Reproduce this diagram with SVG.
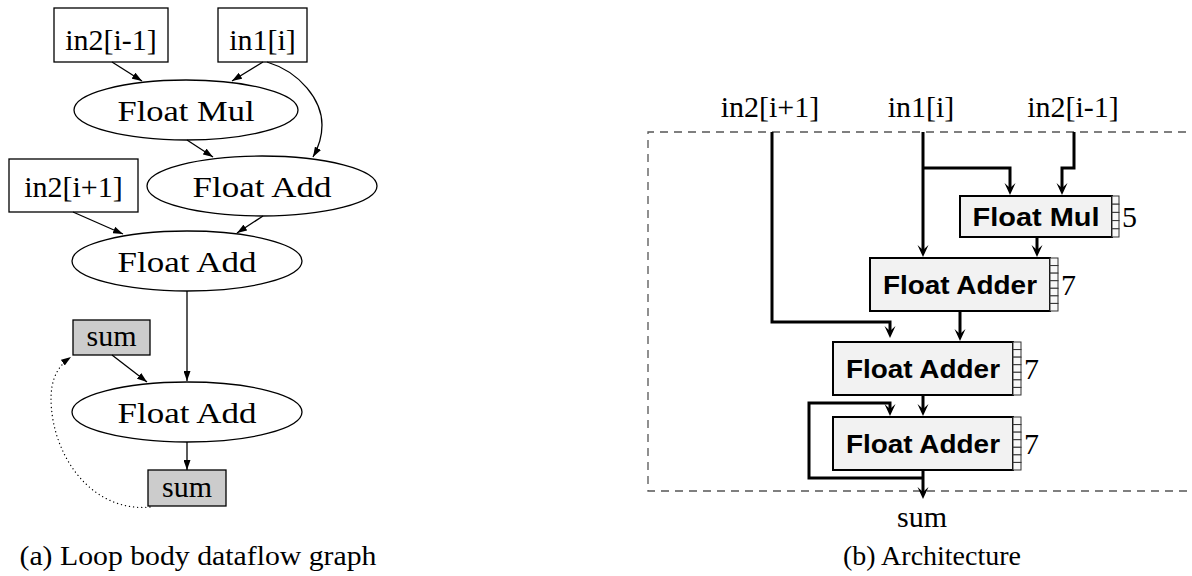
<svg xmlns="http://www.w3.org/2000/svg" width="1192" height="576" viewBox="0 0 1192 576">
<style>
.serif{font-family:"Liberation Serif","DejaVu Serif",serif;fill:#000}
.lbl{font-size:30px;text-anchor:middle}
.cap{font-size:28px;text-anchor:middle}
.sans{font-family:"Liberation Sans","DejaVu Sans",sans-serif;font-weight:bold;font-size:26px;text-anchor:middle;fill:#000}
.gnode{fill:#fff;stroke:#000;stroke-width:1.3}
.gsum{fill:#cccccc;stroke:#000;stroke-width:1.3}
.gedge{fill:none;stroke:#000;stroke-width:1.3}
.unit{fill:#f2f2f2;stroke:#000;stroke-width:2}
.stage{fill:#f8f8f8;stroke:#333;stroke-width:1}
.wire{fill:none;stroke:#000;stroke-width:3}
</style>
<defs>
<marker id="ga" viewBox="0 0 10 7" refX="10" refY="3.5" markerWidth="10" markerHeight="7" markerUnits="userSpaceOnUse" orient="auto">
<path d="M0,0 L10,3.5 L0,7 z" fill="#000"/>
</marker>
<marker id="sa" viewBox="0 0 12 12" refX="7" refY="6" markerWidth="12" markerHeight="12" markerUnits="userSpaceOnUse" orient="auto">
<path d="M12,6 L0,0.5 L5,6 L0,11.5 z" fill="#000"/>
</marker>
</defs>

<!-- (a) dataflow graph -->
<g id="a-in2m1"><rect class="gnode" x="54" y="8" width="114" height="54"/><text class="serif lbl" x="111" y="50">in2[i-1]</text></g>
<g id="a-in1"><rect class="gnode" x="218" y="8" width="89" height="54"/><text class="serif lbl" x="262.5" y="50">in1[i]</text></g>
<g id="a-mul"><ellipse class="gnode" cx="186" cy="110" rx="112" ry="30"/><text class="serif lbl" x="186" y="121" textLength="137" lengthAdjust="spacingAndGlyphs">Float Mul</text></g>
<g id="a-add1"><ellipse class="gnode" cx="262" cy="186" rx="115" ry="30"/><text class="serif lbl" x="262" y="197" textLength="139" lengthAdjust="spacingAndGlyphs">Float Add</text></g>
<g id="a-in2p1"><rect class="gnode" x="9" y="159" width="129" height="53"/><text class="serif lbl" x="73.5" y="197">in2[i+1]</text></g>
<g id="a-add2"><ellipse class="gnode" cx="187" cy="261" rx="115" ry="30"/><text class="serif lbl" x="187" y="272" textLength="139" lengthAdjust="spacingAndGlyphs">Float Add</text></g>
<g id="a-sum1"><rect class="gsum" x="73" y="320" width="77" height="35"/><text class="serif lbl" x="111.5" y="346">sum</text></g>
<g id="a-add3"><ellipse class="gnode" cx="187" cy="412" rx="115" ry="30"/><text class="serif lbl" x="187" y="423" textLength="139" lengthAdjust="spacingAndGlyphs">Float Add</text></g>
<g id="a-sum2"><rect class="gsum" x="148" y="470" width="78" height="36"/><text class="serif lbl" x="187" y="497">sum</text></g>

<g id="a-edges">
<path class="gedge" marker-end="url(#ga)" d="M112,62 L142,81"/>
<path class="gedge" marker-end="url(#ga)" d="M263,62 L232,81"/>
<path class="gedge" marker-end="url(#ga)" d="M267,62 C300,72 322,100 322,125 C322,140 317,150 313,157"/>
<path class="gedge" marker-end="url(#ga)" d="M187,140 L213,157"/>
<path class="gedge" marker-end="url(#ga)" d="M73,212 L123,234"/>
<path class="gedge" marker-end="url(#ga)" d="M263,216 L237,233"/>
<path class="gedge" marker-end="url(#ga)" d="M187,291 L187,381"/>
<path class="gedge" marker-end="url(#ga)" d="M112,355 L147,382"/>
<path class="gedge" marker-end="url(#ga)" d="M187,442 L187,470"/>
<path class="gedge" marker-end="url(#ga)" stroke-dasharray="0.1 4" stroke-linecap="round" d="M150,507 C100,512 62,470 53,420 C47,385 55,368 71,357"/>
</g>
<text class="serif cap" x="198" y="565" textLength="357" lengthAdjust="spacingAndGlyphs">(a) Loop body dataflow graph</text>

<!-- (b) architecture -->
<path d="M1200,132 H648 V491 H1200" fill="none" stroke="#555" stroke-width="1.3" stroke-dasharray="8 6"/>
<g id="b-in2p1"><text class="serif lbl" x="770" y="117">in2[i+1]</text></g>
<g id="b-in1"><text class="serif lbl" x="921" y="117">in1[i]</text></g>
<g id="b-in2m1"><text class="serif lbl" x="1073" y="117">in2[i-1]</text></g>

<g id="b-mul">
<rect class="unit" x="960" y="196" width="152" height="41"/>
<text class="sans" x="1036" y="226" textLength="127" lengthAdjust="spacingAndGlyphs">Float Mul</text>
<g class="stage"><rect x="1112" y="196" width="7" height="8.2"/><rect x="1112" y="204.2" width="7" height="8.2"/><rect x="1112" y="212.4" width="7" height="8.2"/><rect x="1112" y="220.6" width="7" height="8.2"/><rect x="1112" y="228.8" width="7" height="8.2"/></g>
<text class="serif lbl" x="1122" y="227" text-anchor="start" style="text-anchor:start">5</text>
</g>

<g id="b-add1">
<rect class="unit" x="870" y="258" width="180" height="53"/>
<text class="sans" x="960" y="294" textLength="154" lengthAdjust="spacingAndGlyphs">Float Adder</text>
<g class="stage"><rect x="1050" y="258" width="8" height="7.57"/><rect x="1050" y="265.57" width="8" height="7.57"/><rect x="1050" y="273.14" width="8" height="7.57"/><rect x="1050" y="280.71" width="8" height="7.57"/><rect x="1050" y="288.29" width="8" height="7.57"/><rect x="1050" y="295.86" width="8" height="7.57"/><rect x="1050" y="303.43" width="8" height="7.57"/></g>
<text class="serif lbl" x="1061" y="295" style="text-anchor:start">7</text>
</g>

<g id="b-add2">
<rect class="unit" x="833" y="342" width="180" height="53"/>
<text class="sans" x="923" y="378" textLength="154" lengthAdjust="spacingAndGlyphs">Float Adder</text>
<g class="stage"><rect x="1013" y="342" width="8" height="7.57"/><rect x="1013" y="349.57" width="8" height="7.57"/><rect x="1013" y="357.14" width="8" height="7.57"/><rect x="1013" y="364.71" width="8" height="7.57"/><rect x="1013" y="372.29" width="8" height="7.57"/><rect x="1013" y="379.86" width="8" height="7.57"/><rect x="1013" y="387.43" width="8" height="7.57"/></g>
<text class="serif lbl" x="1024" y="379" style="text-anchor:start">7</text>
</g>

<g id="b-add3">
<rect class="unit" x="833" y="417" width="180" height="53"/>
<text class="sans" x="923" y="453" textLength="154" lengthAdjust="spacingAndGlyphs">Float Adder</text>
<g class="stage"><rect x="1013" y="417" width="8" height="7.57"/><rect x="1013" y="424.57" width="8" height="7.57"/><rect x="1013" y="432.14" width="8" height="7.57"/><rect x="1013" y="439.71" width="8" height="7.57"/><rect x="1013" y="447.29" width="8" height="7.57"/><rect x="1013" y="454.86" width="8" height="7.57"/><rect x="1013" y="462.43" width="8" height="7.57"/></g>
<text class="serif lbl" x="1024" y="454" style="text-anchor:start">7</text>
</g>

<g id="b-wires">
<path class="wire" marker-end="url(#sa)" d="M772,132 V322 H890 V333"/>
<path class="wire" marker-end="url(#sa)" d="M923,132 V252"/>
<path class="wire" marker-end="url(#sa)" d="M923,168 H1010 V190"/>
<path class="wire" marker-end="url(#sa)" d="M1074,132 V168 H1062 V190"/>
<path class="wire" marker-end="url(#sa)" d="M1037,237 V252"/>
<path class="wire" marker-end="url(#sa)" d="M960,311 V336"/>
<path class="wire" marker-end="url(#sa)" d="M923,395 V411"/>
<path class="wire" marker-end="url(#sa)" d="M923,478 H809 V403 H890 V411"/>
<path class="wire" marker-end="url(#sa)" d="M923,470 V494"/>
</g>
<g id="b-sum"><text class="serif lbl" x="922" y="527">sum</text></g>
<text class="serif cap" x="932" y="565">(b) Architecture</text>
</svg>
